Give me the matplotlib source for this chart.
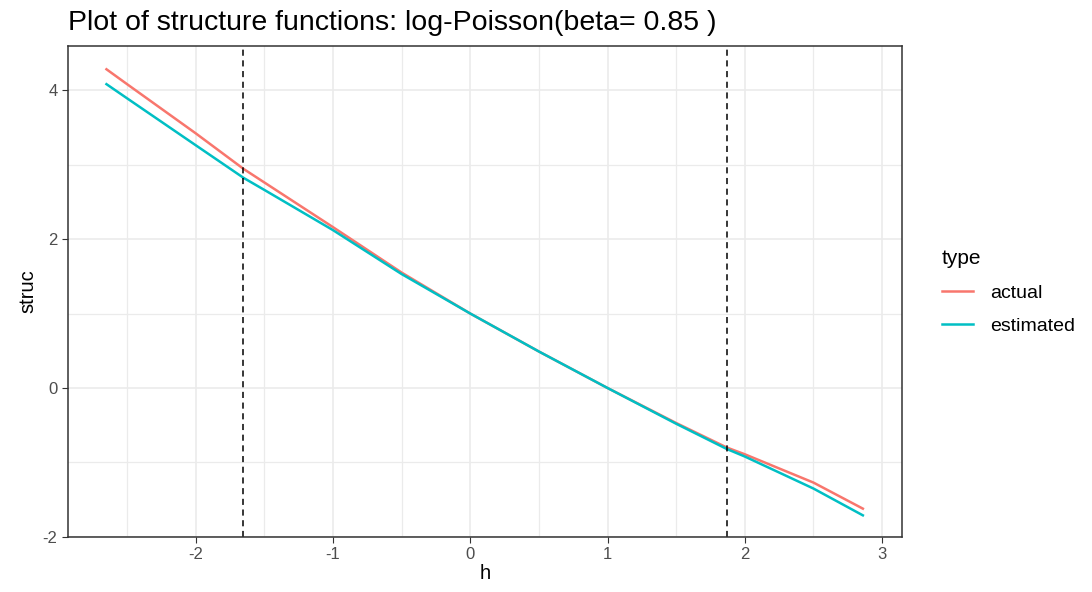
import numpy as np
import matplotlib.pyplot as plt

plt.rcParams['font.family'] = ['Liberation Sans', 'DejaVu Sans']
plt.rcParams['axes.unicode_minus'] = False

# values
h = [-2.65, -2.5, -2.0, -1.65, -1.5, -1.0, -0.5, 0.0, 0.5, 1.0, 1.5, 1.87, 2.0, 2.5, 2.86]
actual = [4.28, 4.08, 3.42, 2.94, 2.76, 2.16, 1.55, 1.0, 0.49, 0.0, -0.47, -0.80, -0.89, -1.27, -1.62]
estimated = [4.08, 3.89, 3.26, 2.82, 2.66, 2.12, 1.53, 1.0, 0.49, 0.0, -0.48, -0.82, -0.92, -1.35, -1.71]
cutoffs = [-1.653, 1.87]
title = "Plot of structure functions: log-Poisson(beta= 0.85 )"

fig = plt.figure(figsize=(10.92, 5.92), dpi=100)
ax = fig.add_axes([0.0623, 0.093, 0.7637, 0.829])

ax.plot(h, actual, color='#F8766D', lw=1.8, label='actual')
ax.plot(h, estimated, color='#00BFC4', lw=1.8, label='estimated')
for c in cutoffs:
    ax.axvline(c, color='black', ls=(0, (4, 3)), lw=1.1)

ax.set_xlim(-2.93, 3.145)
ax.set_ylim(-2.0, 4.59)
ax.set_xticks([-2, -1, 0, 1, 2, 3])
ax.set_yticks([-2, 0, 2, 4])
ax.set_xticks(np.arange(-2.5, 3.1, 1.0), minor=True)
ax.set_yticks([-1, 1, 3], minor=True)
ax.grid(True, which='major', color='#EBEBEB', lw=1.2)
ax.grid(True, which='minor', color='#EBEBEB', lw=0.9)
ax.tick_params(which='minor', length=0)
ax.tick_params(which='major', length=4, color='#333333', labelcolor='#4D4D4D', labelsize=12)
ax.set_axisbelow(True)
for s in ax.spines.values():
    s.set_color('#333333')
    s.set_linewidth(1.1)

ax.set_xlabel('h', fontsize=14.5, labelpad=1)
ax.set_ylabel('struc', fontsize=14.5, labelpad=4)
fig.text(68 / 1092, 1 - 30 / 592, title, fontsize=20.5, ha='left', va='baseline')

leg = fig.legend(*ax.get_legend_handles_labels(), title='type', loc='upper left',
                 bbox_to_anchor=(924 / 1092, 1 - 232 / 592),
                 frameon=False, fontsize=14, title_fontsize=15,
                 handlelength=1.6, handletextpad=0.9, labelspacing=0.8)
leg._legend_box.align = 'left'

fig.savefig('out.png', dpi=100)
